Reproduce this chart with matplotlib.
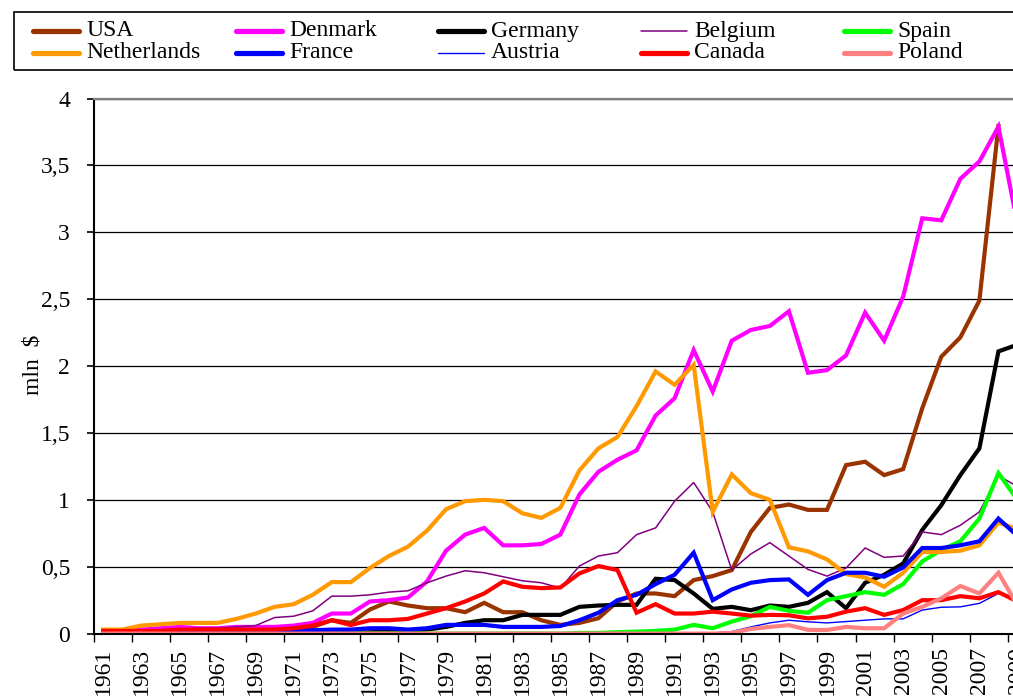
import numpy as np
import matplotlib
matplotlib.use("Agg")
import matplotlib.pyplot as plt
from matplotlib.lines import Line2D
from matplotlib.patches import Rectangle

plt.rcParams['font.family'] = ['Liberation Serif', 'DejaVu Serif']

years = list(range(1961, 2010))
nan = np.nan

usa = [0.01, 0.01, 0.01, 0.015, 0.02, 0.02, 0.02, 0.02, 0.02, 0.02, 0.03, 0.05,
       0.10, 0.08, 0.18, 0.24, 0.21, 0.19, 0.19, 0.16, 0.23, 0.16, 0.16, 0.10,
       0.065, 0.08, 0.115, 0.24, 0.30, 0.30, 0.28, 0.40, 0.43, 0.475, 0.76, 0.94,
       0.965, 0.925, 0.925, 1.26, 1.285, 1.185, 1.23, 1.685, 2.07, 2.215, 2.49, 3.795, nan]
denmark = [0.02, 0.02, 0.03, 0.04, 0.05, 0.04, 0.04, 0.05, 0.05, 0.05, 0.06, 0.08,
           0.15, 0.15, 0.24, 0.25, 0.27, 0.39, 0.62, 0.74, 0.79, 0.66, 0.66, 0.67,
           0.74, 1.04, 1.21, 1.30, 1.37, 1.63, 1.76, 2.12, 1.81, 2.19, 2.27, 2.30,
           2.41, 1.95, 1.97, 2.08, 2.40, 2.19, 2.52, 3.105, 3.09, 3.40, 3.53, 3.79, 3.06]
germany = [0.005, 0.005, 0.005, 0.005, 0.005, 0.005, 0.005, 0.005, 0.005, 0.005, 0.005, 0.005,
           0.005, 0.005, 0.01, 0.015, 0.02, 0.03, 0.05, 0.08, 0.10, 0.10, 0.14, 0.14,
           0.14, 0.20, 0.21, 0.215, 0.215, 0.41, 0.40, 0.30, 0.185, 0.20, 0.175, 0.21,
           0.20, 0.23, 0.31, 0.19, 0.38, 0.44, 0.525, 0.775, 0.96, 1.185, 1.385, 2.11, 2.16]
belgium = [0.01, 0.01, 0.02, 0.03, 0.03, 0.04, 0.04, 0.05, 0.06, 0.12, 0.13, 0.17,
           0.28, 0.28, 0.29, 0.31, 0.32, 0.38, 0.43, 0.47, 0.455, 0.425, 0.395, 0.38,
           0.34, 0.505, 0.58, 0.605, 0.74, 0.79, 0.99, 1.13, 0.91, 0.475, 0.595, 0.68,
           0.58, 0.48, 0.43, 0.49, 0.64, 0.57, 0.58, 0.76, 0.74, 0.81, 0.91, 1.18, 1.10]
spain = [0.0, 0.0, 0.0, 0.0, 0.0, 0.0, 0.0, 0.0, 0.0, 0.0, 0.0, 0.0,
         0.0, 0.0, 0.0, 0.0, 0.0, 0.0, 0.0, 0.0, 0.0, 0.0, 0.0, 0.0,
         0.0, 0.005, 0.005, 0.01, 0.015, 0.02, 0.03, 0.065, 0.04, 0.09, 0.13, 0.20,
         0.17, 0.156, 0.25, 0.28, 0.31, 0.29, 0.37, 0.54, 0.625, 0.69, 0.86, 1.20, 1.00]
netherlands = [0.03, 0.03, 0.06, 0.07, 0.08, 0.08, 0.08, 0.11, 0.15, 0.20, 0.22, 0.29,
               0.385, 0.385, 0.49, 0.58, 0.65, 0.77, 0.93, 0.99, 1.00, 0.99, 0.90, 0.865,
               0.94, 1.22, 1.385, 1.47, 1.70, 1.96, 1.86, 2.01, 0.91, 1.19, 1.05, 1.00,
               0.645, 0.615, 0.555, 0.445, 0.42, 0.35, 0.455, 0.61, 0.61, 0.62, 0.66, 0.83, 0.78]
france = [0.01, 0.01, 0.01, 0.01, 0.015, 0.015, 0.015, 0.02, 0.02, 0.02, 0.02, 0.025,
          0.03, 0.03, 0.04, 0.04, 0.03, 0.04, 0.065, 0.065, 0.065, 0.05, 0.05, 0.05,
          0.057, 0.10, 0.156, 0.25, 0.29, 0.37, 0.44, 0.605, 0.25, 0.33, 0.38, 0.40,
          0.405, 0.29, 0.40, 0.455, 0.455, 0.425, 0.495, 0.64, 0.64, 0.66, 0.69, 0.86, 0.73]
austria = [0.0, 0.0, 0.0, 0.0, 0.0, 0.0, 0.0, 0.0, 0.0, 0.0, 0.0, 0.0,
           0.0, 0.0, 0.0, 0.0, 0.0, 0.0, 0.0, 0.0, 0.0, 0.0, 0.0, 0.0,
           0.0, 0.0, 0.0, 0.0, 0.0, 0.0, 0.0, 0.0, 0.005, 0.015, 0.05, 0.08,
           0.10, 0.088, 0.08, 0.09, 0.10, 0.11, 0.11, 0.176, 0.197, 0.20, 0.226, 0.30, 0.27]
canada = [0.02, 0.02, 0.02, 0.02, 0.03, 0.03, 0.03, 0.03, 0.03, 0.03, 0.04, 0.06,
          0.10, 0.064, 0.10, 0.10, 0.11, 0.15, 0.19, 0.24, 0.30, 0.39, 0.35, 0.34,
          0.345, 0.45, 0.505, 0.475, 0.156, 0.22, 0.15, 0.15, 0.164, 0.15, 0.134, 0.14,
          0.137, 0.114, 0.126, 0.164, 0.19, 0.14, 0.176, 0.25, 0.25, 0.28, 0.264, 0.31, 0.24]
poland = [0.0, 0.0, 0.0, 0.0, 0.0, 0.0, 0.0, 0.0, 0.0, 0.0, 0.0, 0.0,
          0.0, 0.0, 0.0, 0.0, 0.0, 0.0, 0.0, 0.0, 0.0, 0.0, 0.0, 0.0,
          0.0, 0.0, 0.0, 0.0, 0.0, 0.0, 0.0, 0.0, 0.0, 0.005, 0.035, 0.05,
          0.063, 0.028, 0.027, 0.05, 0.04, 0.04, 0.15, 0.20, 0.264, 0.356, 0.30, 0.455, 0.21]

names = ["USA", "Denmark", "Germany", "Belgium", "Spain",
         "Netherlands", "France", "Austria", "Canada", "Poland"]
series = [usa, denmark, germany, belgium, spain,
          netherlands, france, austria, canada, poland]
colors = ["#993300", "#FF00FF", "#000000", "#800080", "#00FF00",
          "#FF9900", "#0000FF", "#0000FF", "#FF0000", "#FF8080"]
widths = [3.0, 3.0, 3.0, 1.1, 3.0, 3.0, 3.0, 1.0, 3.0, 3.0]

yticks = [0, 0.5, 1, 1.5, 2, 2.5, 3, 3.5, 4]
ytick_labels = ["0", "0,5", "1", "1,5", "2", "2,5", "3", "3,5", "4"]

W, H = 1013, 698
FS = 17
fig = plt.figure(figsize=(W / 100, H / 100), dpi=100)

ax_l, ax_r, ax_t, ax_b = 93.7, 1027.0, 98.6, 633.6
ax = fig.add_axes([ax_l / W, (H - ax_b) / H, (ax_r - ax_l) / W, (ax_b - ax_t) / H])

for name, vals, c, lw in zip(names, series, colors, widths):
    ax.plot(years, vals, color=c, lw=lw, solid_joinstyle='miter', label=name)

ax.set_xlim(1960.5, 2009.5)
ax.set_ylim(0, 4)
ax.set_yticks(yticks)
ax.set_yticklabels(ytick_labels, fontsize=FS)
ax.yaxis.grid(True, color='black', lw=0.9)
ax.set_axisbelow(True)
ax.tick_params(axis='y', direction='out', length=5, width=1.2, pad=12)

ax.set_xticks(np.arange(1960.5, 2010, 2))
ax.set_xticklabels([])
ax.tick_params(axis='x', which='major', direction='out', length=6, width=1.0)
ax.set_xticks(years[::2], minor=True)
ax.set_xticklabels([str(y) for y in years[::2]], minor=True, rotation=90,
                   fontsize=FS, va='top')
ax.tick_params(axis='x', which='minor', length=0, pad=10)

for s in ['left', 'bottom']:
    ax.spines[s].set_color('black')
    ax.spines[s].set_linewidth(1.5)
ax.spines['top'].set_color('#808080')
ax.spines['top'].set_linewidth(1.6)
ax.spines['right'].set_color('#808080')

ax.set_ylabel("mln  $", fontsize=FS, va='center')
ax.yaxis.set_label_coords((33 - ax_l) / (ax_r - ax_l), (ax_b - 365) / (ax_b - ax_t))

# legend box (drawn in figure pixel coordinates)
def fx(px):
    return px / W

def fy(py):
    return (H - py) / H

fig.add_artist(Rectangle((fx(14), fy(70)), fx(1030) - fx(14), fy(12) - fy(70),
                         transform=fig.transFigure, fill=False,
                         edgecolor='black', lw=1.2))
col_x = [33, 236, 438, 641, 844]
row_y = [31, 53]
order = [(0, 0), (0, 1), (0, 2), (0, 3), (0, 4),
         (1, 0), (1, 1), (1, 2), (1, 3), (1, 4)]
for (r, cidx), name, c, lw in zip(order, names, colors, widths):
    x0 = col_x[cidx]
    y0 = row_y[r]
    fig.add_artist(Line2D([fx(x0), fx(x0 + 46)], [fy(y0), fy(y0)],
                          transform=fig.transFigure, color=c,
                          lw=lw * 1.25 if lw > 2 else lw, solid_capstyle='round'))
    fig.text(fx(x0 + 53), fy(y0), name, fontsize=FS, va='center', ha='left')

fig.savefig("out.png", dpi=100)
